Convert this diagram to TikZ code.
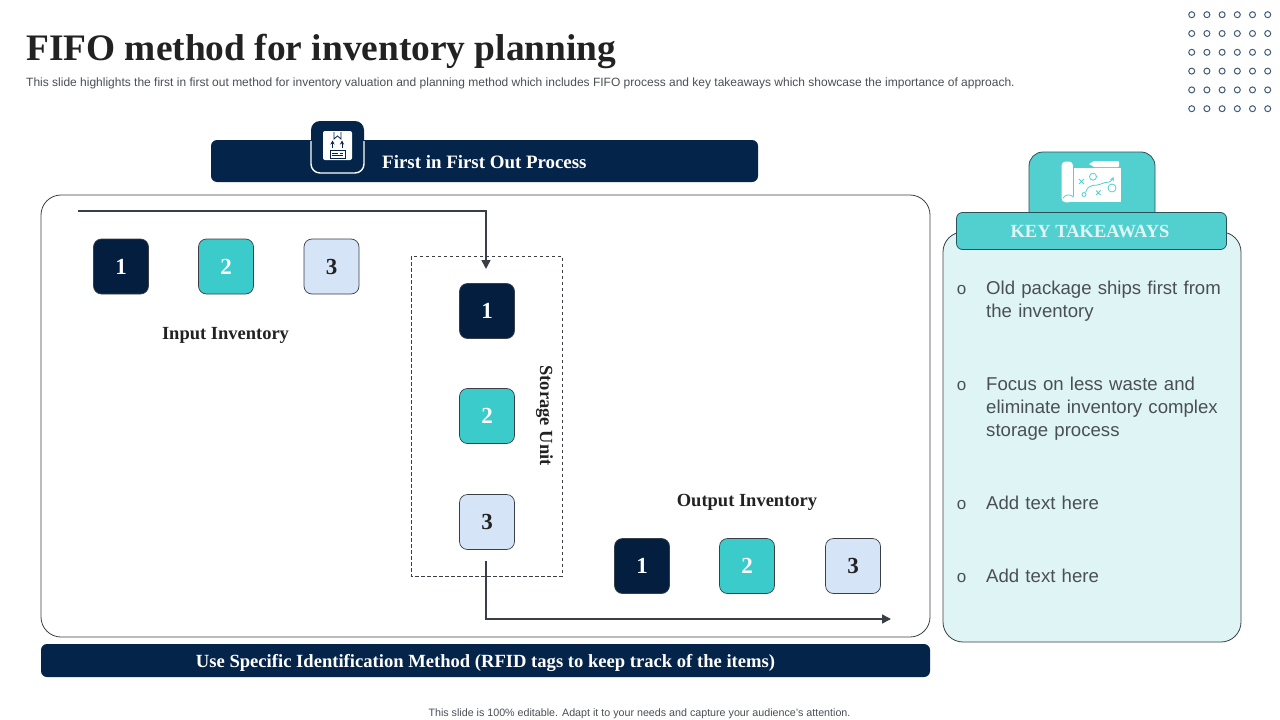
\documentclass[tikz,border=0pt]{standalone}
\usepackage{fontspec}
\setmainfont{Liberation Serif}
\setsansfont{Liberation Sans}
\newfontfamily\bulfont[WordSpace=0.82]{Liberation Sans}
\usetikzlibrary{arrows.meta,calc}
\definecolor{navy}{HTML}{04244A}
\definecolor{navyd}{HTML}{031E3F}
\definecolor{tealbox}{HTML}{3BCBCB}
\definecolor{teall}{HTML}{52D0D0}
\definecolor{paleblue}{HTML}{D6E4F7}
\definecolor{paleteal}{HTML}{DFF5F5}
\definecolor{edge}{HTML}{3A3F47}
\definecolor{txt}{HTML}{222222}
\definecolor{grytxt}{HTML}{4A4F55}
\tikzset{
 x=1pt,y=-1pt,
 num/.style={draw=edge,line width=.7pt,rounded corners=8pt,minimum width=55pt,minimum height=55pt,inner sep=0pt,font=\rmfamily\bfseries\fontsize{23}{23}\selectfont},
 numa/.style={num,fill=navyd,text=white},
 numb/.style={num,fill=tealbox,text=white},
 numc/.style={num,fill=paleblue,text=txt},
 lab/.style={font=\rmfamily\bfseries\fontsize{18.5}{20}\selectfont,text=txt,inner sep=0pt},
 bar/.style={fill=navy,rounded corners=6pt,inner sep=0pt},
 bartext/.style={inner sep=0pt,text=white,font=\rmfamily\bfseries\fontsize{18.6}{20}\selectfont},
 flow/.style={draw=edge,line width=1.6pt,-{Triangle[length=9pt,width=9pt]}},
 bul/.style={font=\bulfont\fontsize{18.6}{23}\selectfont,text=grytxt,align=left,anchor=north west,inner sep=0pt,text width=250pt},
 bmark/.style={font=\sffamily\fontsize{17}{17}\selectfont,text=grytxt,inner sep=0pt},
 ic/.style={line width=.8pt},
}
\begin{document}
\begin{tikzpicture}
\useasboundingbox (0,0) rectangle (1280,720);
\fill[white] (0,0) rectangle (1280,720);
% title
\node[anchor=west,inner sep=0pt,font=\rmfamily\bfseries\fontsize{37.4}{40}\selectfont,text=txt] (title) at (26,51) {FIFO method for inventory planning};
\node[anchor=west,inner sep=0pt,font=\sffamily\fontsize{12}{14}\selectfont,text=grytxt] (sub) at (26,83) {This slide highlights the first in first out method for inventory valuation and planning method which includes FIFO process and key takeaways which showcase the importance of approach.};
% dots
\foreach \i in {0,...,5}\foreach \j in {0,...,5}{\draw[draw=navy!75!white,line width=1pt] (1191.7+15.2*\i,14.7+18.8*\j) circle (3pt);}
% header bar
\node[bar,minimum width=547pt,minimum height=42pt] (head) at (484.5,161) {};
\node[bartext,anchor=west,font=\rmfamily\bfseries\fontsize{18.9}{20}\selectfont] (headt) at (382,162.5) {First in First Out Process};
\fill[navy,rounded corners=9pt] (311,121) rectangle (364,173);
\draw[draw=white,line width=1.4pt,rounded corners=9pt] (311,141) -- (311,173) -- (364,173) -- (364,141);
\fill[white,rounded corners=2pt] (323,131) rectangle (352,160);
\begin{scope}[navy]
\draw[ic] (334,132) -- (334,139) -- (337.5,136) -- (341,139) -- (341,132);
\draw[ic,-{Stealth[length=4pt,width=4pt]}] (332.5,148) -- (332.5,140.5);
\draw[ic,-{Stealth[length=4pt,width=4pt]}] (342,148) -- (342,140.5);
\draw[ic] (330,150) rectangle (345,158);
\draw[ic] (332,153) -- (338,153) (340,153) -- (343,153) (332,155.5) -- (343,155.5);
\end{scope}
% main frame
\draw[draw=edge,line width=.8pt,rounded corners=20pt,fill=white] (41,195) rectangle (930,637);
% dashed storage
\draw[draw=edge,line width=.8pt,dash pattern=on 3.5pt off 2.5pt] (411,256) rectangle (562,576);
% numbers
\node[numa] (i1) at (121,266.5) {1};
\node[numb] (i2) at (226,266.5) {2};
\node[numc] (i3) at (331.5,266.5) {3};
\node[numa] (s1) at (487,311) {1};
\node[numb] (s2) at (487,416) {2};
\node[numc] (s3) at (487,522) {3};
\node[numa] (o1) at (642,566) {1};
\node[numb] (o2) at (747,566) {2};
\node[numc] (o3) at (853,566) {3};
\node[lab] (il) at (225.5,335) {Input Inventory};
\node[lab] (ol) at (747,502) {Output Inventory};
\node[lab,rotate=-90] (sl) at (544.5,415.5) {Storage Unit};
% connectors
\coordinate (a0) at (78,211);
\coordinate (a1) at (486,269);
\coordinate (b0) at (486,561);
\coordinate (b1) at (891,619);
\draw[flow] (a0) -| (a1);
\draw[flow] (b0) |- (b1);
% bottom bar
\node[bar,minimum width=889pt,minimum height=33pt] (foot) at (485.5,660.5) {};
\node[bartext] (foott) at (485.5,663) {Use Specific Identification Method (RFID tags to keep track of the items)};
% right panel
\draw[draw=edge,line width=.8pt,fill=paleteal,rounded corners=20pt] (943,232) rectangle (1241,642);
\draw[draw=edge!70!teal,line width=.8pt,fill=teall,rounded corners=14pt] (1029,213) -- (1029,152) -- (1155,152) -- (1155,213);
\node[draw=edge!70!teal,line width=.8pt,fill=teall,rounded corners=6pt,minimum width=270pt,minimum height=37pt,inner sep=0pt] (kt) at (1091.5,231) {};
\node[inner sep=0pt,text=paleteal,font=\rmfamily\bfseries\fontsize{18.5}{20}\selectfont] (ktt) at (1090,232) {KEY TAKEAWAYS};
% map icon
\fill[white,rounded corners=4pt] (1061.5,161.5) rectangle (1073,202.3);
\fill[white] (1068,168) rectangle (1121,202.3);
\fill[white] (1089,164) -- (1094,161) -- (1094,167) -- cycle;
\fill[white,rounded corners=1pt] (1093.5,161) rectangle (1119,167);
\draw[teall,line width=.8pt] (1073.5,166) -- (1073.5,196) (1063,198) .. controls (1066,194) and (1070,194) .. (1073.5,197);
\begin{scope}[teall,line width=.8pt]
\draw (1079,179) -- (1084,184) (1084,179) -- (1079,184);
\draw (1093,176.7) circle (3.5pt);
\draw (1112,188) circle (4pt);
\draw (1096,190.5) -- (1100.5,195) (1100.5,190.5) -- (1096,195);
\draw (1084,194.5) circle (2pt);
\draw[-{Stealth[length=4pt,width=4pt]}] (1085.5,192.5) .. controls (1089,182) and (1096,187) .. (1101,184) .. controls (1106,181) and (1110,184) .. (1113.5,177);
\end{scope}
% bullets
\node[bmark] (m1) at (961.5,290) {o};
\node[bul] (t1) at (986,281) {Old package ships first from\\the inventory};
\node[bmark] (m2) at (961.5,386) {o};
\node[bul] (t2) at (986,377) {Focus on less waste and\\eliminate inventory complex\\storage process};
\node[bmark] (m3) at (961.5,505) {o};
\node[bul] (t3) at (986,496) {Add text here};
\node[bmark] (m4) at (961.5,578) {o};
\node[bul] (t4) at (986,569) {Add text here};
% footer
\node[inner sep=0pt,font=\sffamily\fontsize{10.7}{13}\selectfont,text=grytxt] (note) at (639.5,714) {This slide is 100\% editable.  Adapt it to your needs and capture your audience's attention.};
\end{tikzpicture}
\end{document}
